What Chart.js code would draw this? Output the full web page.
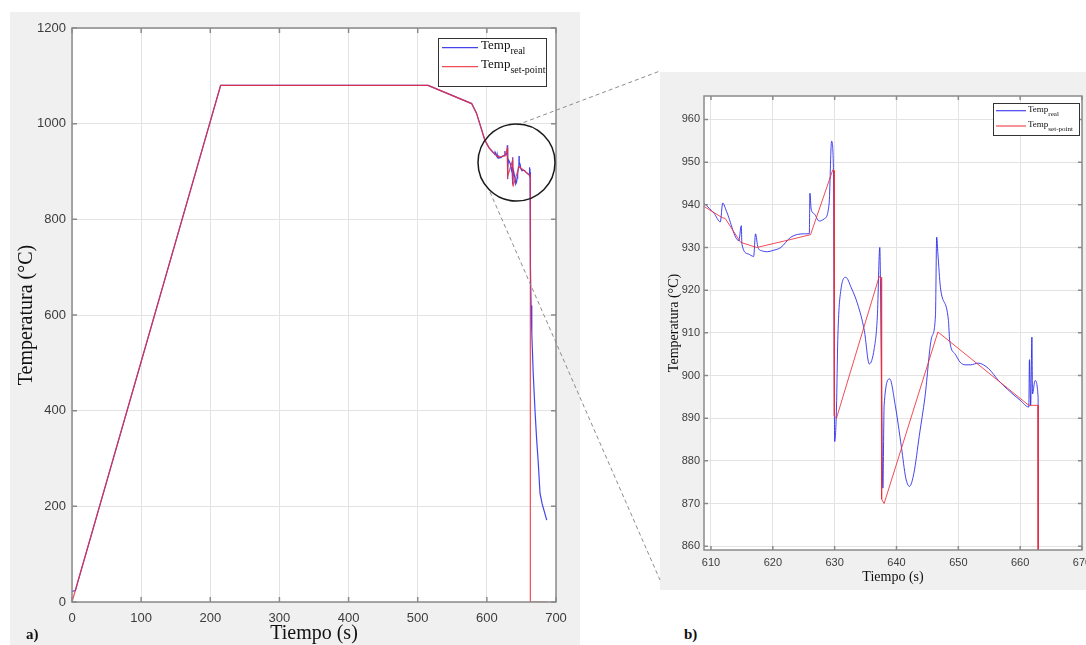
<!DOCTYPE html>
<html lang="es">
<head>
<meta charset="utf-8">
<title>Temperatura vs tiempo</title>
<script src="https://cdn.jsdelivr.net/npm/chart.js@4.4.1/dist/chart.umd.min.js"></script>
<style>
  html, body { margin: 0; padding: 0; background: #fff; }
  #page { position: relative; width: 1086px; height: 645px; overflow: hidden; }
  .panel { position: absolute; background: #f0f0f0; }
  #panelA { left: 10px; top: 12px; width: 570px; height: 633px; }
  #panelB { left: 660px; top: 72px; width: 426px; height: 518px; }
  .panel canvas { position: absolute; left: 0; top: 0; }
  .tag { position: absolute; font: bold 15px "Liberation Serif", "Times New Roman", serif; line-height: 18px; color: #111; }
  #zoomMarks { position: absolute; left: 0; top: 0; pointer-events: none; }
</style>
</head>
<body>
<div id="page">
  <div class="panel" id="panelA"><canvas id="chartA" width="570" height="633"></canvas></div>
  <div class="panel" id="panelB"><canvas id="chartB" width="426" height="518"></canvas></div>
  <div class="tag" style="left:26px; top:625px;">a)</div>
  <div class="tag" style="left:684px; top:625px;">b)</div>
  <svg id="zoomMarks" width="1086" height="645">
    <line x1="517" y1="125" x2="660" y2="71" stroke="#8c8c8c" stroke-width="1" stroke-dasharray="4 3"/>
    <line x1="490" y1="192" x2="660" y2="580" stroke="#8c8c8c" stroke-width="1" stroke-dasharray="4 3"/>
    <circle cx="516.5" cy="162.5" r="38.5" fill="none" stroke="#1a1a1a" stroke-width="1.5"/>
  </svg>
</div>
<script>
// set-point profile (s, °C)
const setTime = [0, 215, 515, 578, 585, 597, 603, 609, 611.8, 612.3, 614.8, 617.4, 622.4, 626.1,
  629.7, 629.9, 629.95, 630.3, 637.2, 637.5, 637.6, 638.0, 646.7, 661.4, 662.9, 662.9, 688];
const setTemp = [0, 1080, 1080, 1042, 1022, 966, 950, 939.5, 937, 936.8, 931.2, 930, 931.7, 933,
  948.2, 948, 890.5, 890, 923.2, 923, 871, 870, 910.2, 893, 893, 0, 0];

// measured furnace temperature (s, °C)
const realTime = [0, 5, 8, 215, 515, 578, 585, 597, 603,
  609, 610.5, 611.5, 611.9, 612.5, 614.5, 614.9, 615.0, 616.0, 616.9, 617.2, 617.6, 618.3, 619.1,
  620, 621.3, 622.9, 625.1, 625.9, 626.0, 626.2, 626.7, 627.5, 628.3, 629.1, 629.5, 629.8, 630.0,
  630.3, 630.5, 631, 631.8, 632.7, 633.7, 634.8, 635.6, 636.4, 636.9, 637.3, 637.5, 637.8, 638.0,
  638.9, 639.8, 640.8, 641.5, 642.1, 642.8, 643.7, 644.6, 645.7, 646.3, 646.5, 646.7, 647.1, 648.4,
  648.6, 649.5, 650.3, 651.1, 652, 653.2, 654.9, 656.5, 658, 660, 661.4, 661.5, 661.7, 661.9, 662,
  662.4, 662.9,
  663.1, 664, 665, 667, 669.6, 672, 674.4, 676.9, 680, 686.6];
const realTemp = [22, 24, 40, 1080, 1080, 1042, 1022, 966, 950,
  940.2, 938, 936, 940.4, 938.5, 931.6, 935.1, 930.8, 928.5, 927.9, 933.2, 930, 929.2, 929,
  929.3, 930, 932.4, 933.2, 933.2, 942.7, 939, 937.9, 936.2, 936.7, 940.2, 954.9, 948.8, 884.5,
  892.6, 908.2, 920, 923, 920.5, 916.8, 910.5, 902.7, 906.3, 913.7, 930, 910, 873.6, 893,
  899.2, 893, 883.2, 876, 874, 877, 886, 894.9, 909, 914, 932.4, 928.5, 920.7, 912.9,
  908.2, 905, 903.1, 902.5, 902.5, 902.9, 901.6, 898.8, 896.7, 894.2, 892.6, 903.7, 893, 909, 895.7,
  898.8, 894.9,
  700, 620, 562, 480, 401, 340, 290, 227, 205, 171];

const xTicksA = [0, 100, 200, 300, 400, 500, 600, 700];
const yTicksA = [0, 200, 400, 600, 800, 1000, 1200];
const xTicksB = [610, 620, 630, 640, 650, 660, 670];
const yTicksB = [860, 870, 880, 890, 900, 910, 920, 930, 940, 950, 960];

const BLUE = 'rgba(35, 35, 235, 0.85)';
const RED = 'rgba(240, 45, 55, 0.85)';
const GRID = '#e3e3e3';
const AXIS = '#8a8a8a';
const TICK = '#3c3c3c';
const SANS = '"Liberation Sans", Arial, sans-serif';
const SERIF = '"Liberation Serif", "Times New Roman", serif';

const toPoints = (xs, ys) => xs.map((x, i) => ({ x, y: ys[i] }));

// white plot area, then a box with inward tick marks on all four sides
const framePlugin = {
  id: 'frame',
  beforeDraw(chart) {
    const { ctx, chartArea: a } = chart;
    ctx.save();
    ctx.fillStyle = '#fff';
    ctx.fillRect(a.left, a.top, a.right - a.left, a.bottom - a.top);
    ctx.restore();
  },
  afterDatasetsDraw(chart, args, opts) {
    const { ctx, chartArea: a, scales: { x, y } } = chart;
    ctx.save();
    ctx.strokeStyle = opts.color;
    ctx.lineWidth = opts.width;
    ctx.strokeRect(a.left, a.top, a.right - a.left, a.bottom - a.top);
    ctx.beginPath();
    x.ticks.forEach((t) => {
      const px = x.getPixelForValue(t.value);
      if (px < a.left || px > a.right) return;
      ctx.moveTo(px, a.bottom); ctx.lineTo(px, a.bottom - opts.len);
      ctx.moveTo(px, a.top); ctx.lineTo(px, a.top + opts.len);
    });
    y.ticks.forEach((t) => {
      const py = y.getPixelForValue(t.value);
      if (py < a.top || py > a.bottom) return;
      ctx.moveTo(a.left, py); ctx.lineTo(a.left + opts.len, py);
      ctx.moveTo(a.right, py); ctx.lineTo(a.right - opts.len, py);
    });
    ctx.stroke();
    ctx.restore();
  }
};

// legend with subscripted labels (Temp_real / Temp_set-point)
const tempLegend = {
  id: 'tempLegend',
  afterDraw(chart, args, o) {
    const { ctx } = chart;
    const rows = [
      { color: BLUE, sub: 'real', y: o.row1 },
      { color: RED, sub: 'set-point', y: o.row2 }
    ];
    ctx.save();
    ctx.fillStyle = '#fff';
    ctx.fillRect(o.x, o.y, o.w, o.h);
    ctx.strokeStyle = '#333';
    ctx.lineWidth = 1;
    ctx.strokeRect(o.x + 0.5, o.y + 0.5, o.w, o.h);
    rows.forEach((r) => {
      ctx.strokeStyle = r.color;
      ctx.lineWidth = 1.2;
      ctx.beginPath();
      ctx.moveTo(o.line0, r.y);
      ctx.lineTo(o.line1, r.y);
      ctx.stroke();
      ctx.fillStyle = '#111';
      ctx.textBaseline = 'middle';
      ctx.font = o.size + 'px ' + SERIF;
      ctx.fillText('Temp', o.textX, r.y + o.mainShift);
      const w = ctx.measureText('Temp').width;
      ctx.font = o.subSize + 'px ' + SERIF;
      ctx.fillText(r.sub, o.textX + w, r.y + o.subShift);
    });
    ctx.restore();
  }
};

function tempChart(id, o) {
  return new Chart(document.getElementById(id), {
    type: 'line',
    data: {
      datasets: [
        { label: 'Temp real', data: toPoints(realTime, realTemp), borderColor: BLUE, borderWidth: o.lw,
          pointRadius: 0, tension: 0, cubicInterpolationMode: o.curve, order: 1 },
        { label: 'Temp set-point', data: toPoints(setTime, setTemp), borderColor: RED, borderWidth: o.lw,
          pointRadius: 0, tension: 0, order: 0 }
      ]
    },
    options: {
      responsive: false,
      animation: false,
      devicePixelRatio: 1,
      layout: { padding: o.pad },
      plugins: {
        legend: { display: false },
        tooltip: { enabled: false },
        frame: { color: AXIS, width: 1.5, len: o.tickLen },
        tempLegend: o.legend
      },
      scales: {
        x: {
          type: 'linear', min: o.xMin, max: o.xMax,
          afterBuildTicks: (s) => { s.ticks = o.xTicks.map((v) => ({ value: v })); },
          afterFit: (s) => { s.height = o.xH; s.paddingLeft = 0; s.paddingRight = 0; },
          grid: { color: GRID, drawTicks: false },
          border: { display: false },
          ticks: { font: { family: SANS, size: o.tickSize }, color: TICK, padding: o.xPad, maxRotation: 0,
            autoSkip: false, callback: (v) => String(v) },
          title: { display: true, text: 'Tiempo (s)', color: '#111',
            font: { family: SERIF, size: o.titleSize, lineHeight: o.xTitleLH }, padding: { top: 0, bottom: o.xTitlePad } }
        },
        y: {
          type: 'linear', min: o.yMin, max: o.yMax,
          afterBuildTicks: (s) => { s.ticks = o.yTicks.map((v) => ({ value: v })); },
          afterFit: (s) => { s.width = o.yW; s.paddingTop = 0; s.paddingBottom = 0; },
          grid: { color: GRID, drawTicks: false },
          border: { display: false },
          ticks: { font: { family: SANS, size: o.tickSize }, color: TICK, padding: o.yPad,
            autoSkip: false, callback: (v) => String(v) },
          title: { display: true, text: 'Temperatura (°C)', color: '#111',
            font: { family: SERIF, size: o.titleSize, lineHeight: 1.2 }, padding: { top: o.yTitlePad, bottom: 0 } }
        }
      }
    },
    plugins: [framePlugin, tempLegend]
  });
}

// full cycle
tempChart('chartA', {
  lw: 1.2, tickLen: 5, curve: 'default',
  pad: { left: 0, top: 16, right: 24, bottom: 0 },
  xMin: 0, xMax: 700, yMin: 0, yMax: 1200,
  xTicks: xTicksA, yTicks: yTicksA,
  xH: 43, yW: 62, tickSize: 13, xPad: 9, yPad: 6,
  titleSize: 20, xTitleLH: 1.1, xTitlePad: 0, yTitlePad: 5,
  legend: { x: 428, y: 26, w: 108, h: 48, row1: 35.7, row2: 54.7, line0: 432, line1: 468,
    textX: 471, size: 13, subSize: 10, mainShift: -2, subShift: 4 }
});

// detail of the quench steps
tempChart('chartB', {
  lw: 1, tickLen: 4, curve: 'monotone',
  pad: { left: 0, top: 24, right: 4, bottom: 0 },
  xMin: 608.87, xMax: 670, yMin: 859.1, yMax: 965.5,
  xTicks: xTicksB, yTicks: yTicksB,
  xH: 40, yW: 44, tickSize: 11, xPad: 6, yPad: 4,
  titleSize: 14, xTitleLH: 1.2, xTitlePad: 4.6, yTitlePad: 5.6,
  legend: { x: 333, y: 31, w: 86, h: 32, row1: 38.7, row2: 54, line0: 336, line1: 366,
    textX: 368, size: 9, subSize: 7, mainShift: -1, subShift: 3 }
});
</script>
</body>
</html>
